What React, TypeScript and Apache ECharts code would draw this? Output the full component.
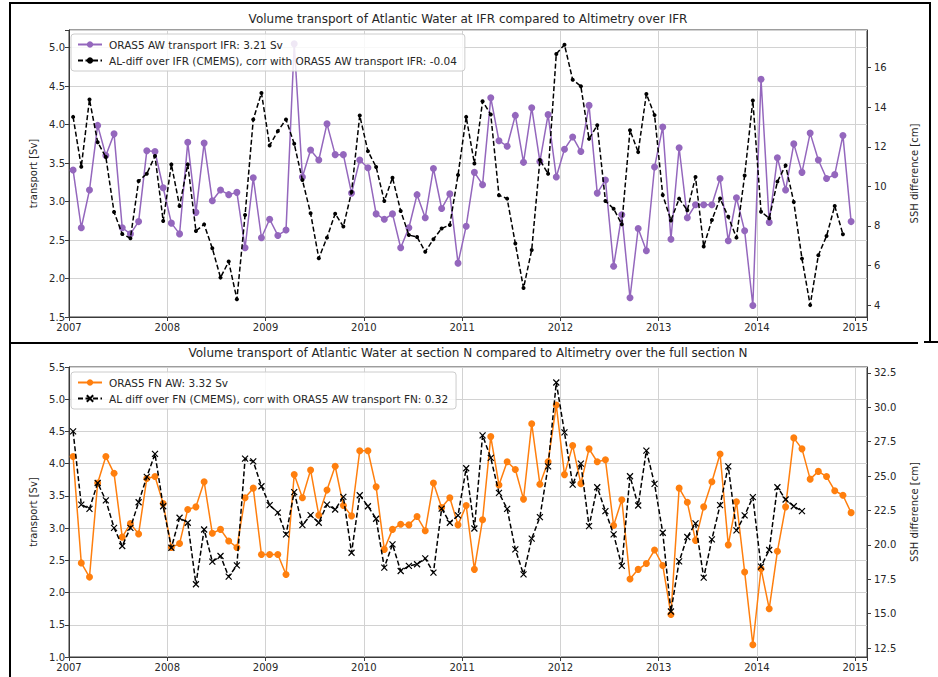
import React, { useEffect, useRef } from "react";
import * as echarts from "echarts";

// Monthly series, January 2007 to December 2014
const startYear = 2007;
const yearTicks = [2007, 2008, 2009, 2010, 2011, 2012, 2013, 2014, 2015];

// ORAS5 Atlantic Water transport across IFR [Sv]
const ifrTransport = [
  3.41, 2.66, 3.15, 3.99, 3.6, 3.88, 2.66, 2.58, 2.74, 3.66, 3.65, 3.18,
  2.72, 2.58, 3.77, 2.86, 3.76, 3.01, 3.15, 3.09, 3.12, 2.4, 3.31, 2.53,
  2.77, 2.56, 2.63, 5.05, 3.32, 3.67, 3.54, 4.01, 3.61, 3.61, 3.11, 3.54,
  3.44, 2.84, 2.77, 2.84, 2.4, 2.66, 3.09, 2.79, 3.43, 2.91, 3.1, 2.2,
  2.68, 3.38, 3.22, 4.35, 3.79, 3.72, 4.12, 3.51, 4.22, 3.52, 4.13, 3.32,
  3.68, 3.84, 3.65, 4.25, 3.11, 3.28, 2.16, 2.83, 1.75, 2.65, 2.36, 3.45,
  3.97, 2.51, 3.7, 2.79, 2.96, 2.96, 2.96, 3.3, 2.49, 3.05, 2.62, 1.65,
  4.59, 2.73, 3.57, 3.15, 3.75, 3.38, 3.89, 3.54, 3.3, 3.35, 3.86, 2.74,
];

// Altimetry SSH difference over IFR [cm]
const ifrSshDiff = [
  13.51, 10.99, 14.39, 12.23, 11.48, 8.7, 7.59, 7.38, 10.27, 10.64, 11.53, 8.25,
  11.11, 9.01, 11.11, 7.75, 8.08, 6.87, 5.39, 6.2, 4.3, 8.55, 13.38, 14.72,
  12.07, 12.79, 13.38, 12.15, 10.32, 8.64, 6.37, 7.41, 8.62, 7.97, 9.71, 13.58,
  11.78, 10.98, 9.26, 10.44, 8.76, 7.54, 7.44, 6.7, 7.33, 7.87, 8.05, 10.57,
  13.51, 11.16, 14.3, 13.63, 9.55, 9.38, 7.11, 4.86, 6.79, 11.33, 10.64, 16.69,
  17.16, 15.39, 15.06, 12.4, 13.09, 9.26, 8.87, 8.08, 12.84, 11.73, 14.67, 13.6,
  9.56, 8.28, 9.38, 8.79, 10.47, 6.96, 8.3, 9.39, 8.46, 7.41, 10.55, 14.34,
  8.72, 8.39, 10.24, 11.06, 9.21, 6.35, 4.0, 6.52, 7.49, 9.01, 7.58,
];

// ORAS5 Atlantic Water transport across section FN [Sv]
const fnTransport = [
  4.11, 2.46, 2.24, 3.7, 4.11, 3.85, 2.86, 3.07, 2.91, 3.77, 3.8, 3.38,
  2.7, 2.76, 3.29, 3.33, 3.72, 2.92, 2.98, 2.8, 2.7, 3.47, 3.62, 2.59,
  2.59, 2.59, 2.28, 3.83, 3.47, 3.9, 3.2, 3.59, 3.96, 3.35, 3.19, 4.2,
  4.2, 3.64, 2.67, 2.98, 3.06, 3.05, 3.18, 2.96, 3.7, 3.32, 3.47, 3.05,
  3.35, 2.36, 3.13, 4.42, 3.67, 4.03, 3.91, 3.45, 4.62, 3.68, 4.03, 4.91,
  3.83, 4.28, 3.69, 4.23, 4.03, 4.06, 3.04, 3.44, 2.21, 2.36, 2.45, 2.66,
  2.42, 1.66, 3.62, 3.4, 2.81, 3.33, 3.72, 4.15, 2.74, 3.41, 2.32, 1.19,
  2.37, 1.75, 2.64, 3.33, 4.4, 4.23, 3.76, 3.88, 3.8, 3.58, 3.51, 3.24,
];

// Altimetry SSH difference over the full section N [cm]
const fnSshDiff = [
  28.25, 22.93, 22.62, 24.5, 23.23, 21.24, 19.92, 21.24, 23.1, 24.94, 26.61, 22.81,
  19.79, 21.97, 21.61, 17.14, 21.12, 18.78, 19.19, 17.69, 18.51, 26.27, 26.07, 24.26,
  22.89, 22.35, 20.76, 23.83, 21.44, 22.16, 21.61, 22.93, 22.57, 23.49, 19.43, 23.61,
  22.81, 21.9, 18.35, 20.04, 18.1, 18.47, 18.59, 19.02, 17.98, 22.64, 21.61, 22.14,
  25.57, 21.19, 27.96, 26.32, 23.78, 22.62, 19.67, 17.86, 20.45, 22.02, 25.71, 31.8,
  28.18, 24.38, 25.91, 21.36, 24.19, 22.45, 20.76, 18.47, 24.99, 22.86, 26.85, 24.43,
  20.88, 15.16, 18.8, 20.57, 21.56, 17.62, 20.4, 22.89, 25.71, 21.05, 22.14, 23.47,
  18.42, 19.63, 24.19, 23.3, 22.81, 22.45,
];

const ifrSshTicks = [4, 6, 8, 10, 12, 14, 16];
const fnSshTicks = [12.5, 15, 17.5, 20, 22.5, 25, 27.5, 30, 32.5];

const ifrTransportName = "ORAS5 AW transport IFR: 3.21 Sv";
const ifrSshName = "AL-diff over IFR (CMEMS), corr with ORAS5 AW transport IFR: -0.04";
const fnTransportName = "ORAS5 FN AW: 3.32 Sv";
const fnSshName = "AL diff over FN (CMEMS), corr with ORAS5 AW transport FN: 0.32";

// Place each monthly value at the middle of its month, in decimal years
const monthly = (values: number[]) =>
  values.map((v, i) => [startYear + (i + 0.5) / 12, v]);

const FONT = "DejaVu Sans";
const INK = "#262626";
const SPINE = "#3a3a3a";
const GRIDLINE = "#d2d2d2";
const PURPLE = "#9467bd";
const ORANGE = "#ff7f0e";
const CROSS = "path://M0 0L10 10M10 0L0 10";

const halfStep = (v: number) => Math.abs(v * 2 - Math.round(v * 2)) < 1e-6;

function xAxisFor(gridIndex: number) {
  return {
    type: "value",
    gridIndex,
    min: yearTicks[0],
    max: 2015.12,
    interval: 1,
    axisLine: { onZero: false, lineStyle: { color: SPINE, width: 1 } },
    axisTick: { length: 4, lineStyle: { color: SPINE } },
    axisLabel: {
      margin: 5,
      fontFamily: FONT,
      fontSize: 10,
      color: INK,
      formatter: (v: number) => (yearTicks.includes(v) ? String(v) : ""),
    },
    splitLine: { show: true, lineStyle: { color: GRIDLINE, width: 1 } },
  };
}

function leftAxis(gridIndex: number, min: number, max: number) {
  return {
    type: "value",
    gridIndex,
    position: "left",
    min,
    max,
    interval: 0.5,
    name: "transport [Sv]",
    nameLocation: "middle",
    nameRotate: 90,
    nameGap: 30,
    nameTextStyle: { fontFamily: FONT, fontSize: 10, color: INK },
    axisLine: { show: true, lineStyle: { color: SPINE } },
    axisTick: { show: true, length: 4, lineStyle: { color: SPINE } },
    axisLabel: {
      margin: 4,
      fontFamily: FONT,
      fontSize: 10,
      color: INK,
      formatter: (v: number) => (halfStep(v) ? v.toFixed(1) : ""),
    },
    splitLine: { show: true, lineStyle: { color: GRIDLINE, width: 1 } },
  };
}

function rightAxis(
  gridIndex: number,
  min: number,
  max: number,
  ticks: number[],
  digits: number,
  gap: number
) {
  return {
    type: "value",
    gridIndex,
    position: "right",
    min,
    max,
    name: "SSH difference [cm]",
    nameLocation: "middle",
    nameRotate: 90,
    nameGap: gap,
    nameTextStyle: { fontFamily: FONT, fontSize: 10, color: INK },
    axisLine: { show: true, lineStyle: { color: SPINE } },
    axisTick: { show: true, length: 4, customValues: ticks, lineStyle: { color: SPINE } },
    axisLabel: {
      margin: 7,
      fontFamily: FONT,
      fontSize: 10,
      color: INK,
      customValues: ticks,
      formatter: (v: number) => v.toFixed(digits),
    },
    splitLine: { show: false },
  };
}

function legendFor(top: number, names: string[]) {
  return {
    orient: "vertical",
    left: 71,
    top,
    data: names,
    itemWidth: 24,
    itemHeight: 8,
    itemGap: 5,
    padding: [5, 8, 5, 6],
    backgroundColor: "rgba(255,255,255,0.85)",
    borderColor: "#cccccc",
    borderWidth: 1,
    borderRadius: 3,
    textStyle: { fontFamily: FONT, fontSize: 10.5, color: INK, padding: [0, 0, 0, 2] },
  };
}

function frameLine(x1: number, y1: number, x2: number, y2: number, w = 2) {
  return {
    type: "line",
    silent: true,
    shape: { x1, y1, x2, y2 },
    style: { stroke: "#000", lineWidth: w },
    z: 10,
  };
}

function titleText(x: number, y: number, text: string) {
  return {
    type: "text",
    x,
    y,
    silent: true,
    style: {
      text,
      fill: INK,
      font: `12px "${FONT}"`,
      textAlign: "center",
      textVerticalAlign: "middle",
    },
  };
}

export default function App() {
  const ref = useRef<HTMLDivElement>(null);

  useEffect(() => {
    if (!ref.current) return;
    const chart = echarts.init(ref.current, undefined, { renderer: "svg" });

    const option = {
      animation: false,
      backgroundColor: "#ffffff",
      grid: [
        { left: 69, top: 30, width: 798, height: 287, show: true, borderColor: SPINE, borderWidth: 1, backgroundColor: "transparent" },
        { left: 69, top: 367, width: 798, height: 290, show: true, borderColor: SPINE, borderWidth: 1, backgroundColor: "transparent" },
      ],
      xAxis: [xAxisFor(0), xAxisFor(1)],
      yAxis: [
        leftAxis(0, 1.5, 5.23),
        rightAxis(0, 3.4, 17.9, ifrSshTicks, 0, 42),
        leftAxis(1, 1.0, 5.5),
        rightAxis(1, 11.85, 32.93, fnSshTicks, 1, 42),
      ],
      legend: [
        legendFor(34, [ifrTransportName, ifrSshName]),
        legendFor(372, [fnTransportName, fnSshName]),
      ],
      series: [
        {
          name: ifrTransportName,
          type: "line",
          xAxisIndex: 0,
          yAxisIndex: 0,
          data: monthly(ifrTransport),
          symbol: "circle",
          symbolSize: 7,
          color: PURPLE,
          lineStyle: { width: 1.5, color: PURPLE },
          itemStyle: { color: PURPLE },
          z: 2,
        },
        {
          name: ifrSshName,
          type: "line",
          xAxisIndex: 0,
          yAxisIndex: 1,
          data: monthly(ifrSshDiff),
          symbol: "circle",
          symbolSize: 4,
          color: "#000",
          lineStyle: { width: 1.5, color: "#000", type: [5, 2.5] },
          itemStyle: { color: "#000" },
          z: 3,
        },
        {
          name: fnTransportName,
          type: "line",
          xAxisIndex: 1,
          yAxisIndex: 2,
          data: monthly(fnTransport),
          symbol: "circle",
          symbolSize: 7,
          color: ORANGE,
          lineStyle: { width: 1.5, color: ORANGE },
          itemStyle: { color: ORANGE },
          z: 2,
        },
        {
          name: fnSshName,
          type: "line",
          xAxisIndex: 1,
          yAxisIndex: 3,
          data: monthly(fnSshDiff),
          symbol: CROSS,
          symbolSize: 6,
          color: "#000",
          lineStyle: { width: 1.5, color: "#000", type: [5, 2.5] },
          itemStyle: { color: "#000", borderColor: "#000", borderWidth: 1.2 },
          z: 3,
        },
      ],
      graphic: [
        titleText(468, 19, "Volume transport of Atlantic Water at IFR compared to Altimetry over IFR"),
        titleText(468, 353, "Volume transport of Atlantic Water at section N compared to Altimetry over the full section N"),
        frameLine(9, 3, 931, 3),
        frameLine(10, 2, 10, 677),
        frameLine(930, 2, 930, 343),
        frameLine(9, 343, 918, 343),
        frameLine(924, 342, 938, 342),
      ],
    };

    chart.setOption(option as any);
    return () => chart.dispose();
  }, []);

  return (
    <div
      ref={ref}
      style={{ position: "absolute", left: 0, top: 0, width: 938, height: 677, background: "#fff" }}
    />
  );
}
